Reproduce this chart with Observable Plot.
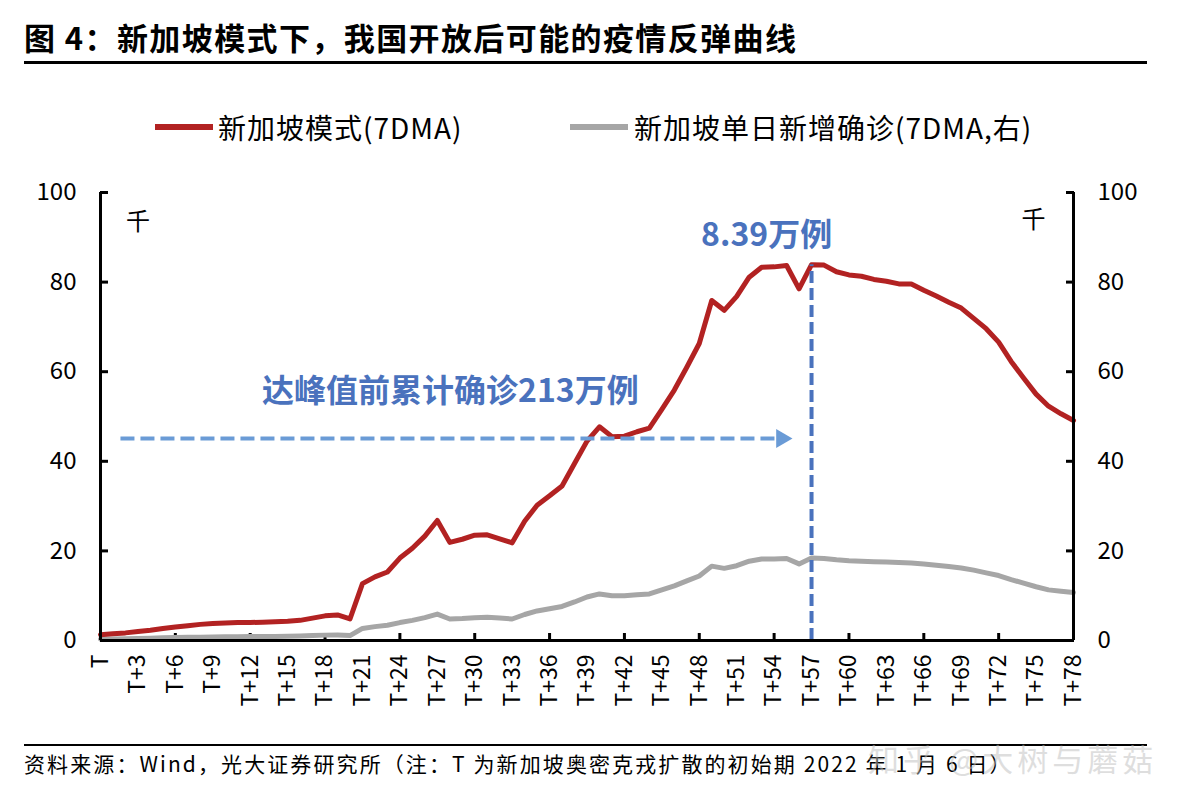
<!DOCTYPE html>
<html>
<head>
<meta charset="utf-8">
<script src="https://cdn.jsdelivr.net/npm/d3@7"></script>
<script src="https://cdn.jsdelivr.net/npm/@observablehq/plot@0.6"></script>
<style>
  body { margin: 0; background: #fff; font-family: "Noto Sans CJK SC", "Noto Sans", sans-serif; }
  #wrap { position: relative; width: 1182px; height: 804px; overflow: hidden; background: #fff; }
  .abs { position: absolute; white-space: nowrap; }
  .title { left: 24px; top: 21px; font-size: 31px; line-height: 31px; font-weight: 700; letter-spacing: 1.4px; color: #000; }
  .hr { left: 24px; width: 1123px; height: 3px; background: #000; }
  .leg { font-size: 28px; line-height: 28px; top: 113px; color: #000; letter-spacing: 1px; }
  .sw { height: 6px; top: 124px; width: 58px; }
  .cap { left: 24px; top: 751px; font-size: 21px; line-height: 24px; color: #000; letter-spacing: 2.1px; }
  .wm { left: 868px; top: 738px; font-size: 31px; line-height: 40px; color: rgba(190,190,190,0.5); letter-spacing: 4px; }
  #chart { position: absolute; left: 0; top: 150px; }
</style>
</head>
<body>
<div id="wrap">
  <div class="abs title">图 4：新加坡模式下，我国开放后可能的疫情反弹曲线</div>
  <div class="abs hr" style="top:61px"></div>
  <div class="abs sw" style="left:155px;background:#B22222"></div>
  <div class="abs leg" style="left:218px">新加坡模式(7DMA)</div>
  <div class="abs sw" style="left:570px;background:#A6A6A6"></div>
  <div class="abs leg" style="left:634px">新加坡单日新增确诊(7DMA,右)</div>
  <div id="chart"></div>
  <div class="abs hr" style="top:744px;height:2px"></div>
  <div class="abs cap">资料来源：Wind，光大证券研究所（注：T 为新加坡奥密克戎扩散的初始期 2022 年 1 月 6 日）</div>
  <div class="abs wm">知乎 @大树与蘑菇</div>
</div>
<script>
// Day index after T (T = 2022-01-06)
const days = d3.range(0, 79);

// 新加坡模式(7DMA), 千
const redSeries = [
  1.3, 1.5, 1.7, 2.0, 2.3, 2.7, 3.0, 3.3, 3.6, 3.8,
  3.9, 4.0, 4.0, 4.1, 4.2, 4.3, 4.5, 5.0, 5.5, 5.7,
  4.8, 12.7, 14.2, 15.3, 18.4, 20.6, 23.3, 26.8, 21.9, 22.6,
  23.5, 23.6, 22.7, 21.8, 26.6, 30.2, 32.3, 34.5, 39.5, 44.5,
  47.7, 45.5, 45.6, 46.6, 47.4, 51.6, 55.9, 61.0, 66.3, 75.9,
  73.7, 76.8, 81.1, 83.3, 83.4, 83.7, 78.5, 83.9, 83.8, 82.3,
  81.6, 81.3, 80.6, 80.2, 79.6, 79.6, 78.2, 76.9, 75.5, 74.2,
  71.9, 69.6, 66.6, 62.3, 58.6, 55.0, 52.3, 50.6, 49.1
];

// 新加坡单日新增确诊(7DMA,右), 千
const graySeries = [
  0.3, 0.35, 0.4, 0.45, 0.5, 0.6, 0.65, 0.7, 0.75, 0.8,
  0.85, 0.85, 0.9, 0.9, 0.9, 0.95, 1.0, 1.1, 1.2, 1.25,
  1.1, 2.7, 3.1, 3.4, 4.0, 4.5, 5.1, 5.9, 4.8, 4.9,
  5.1, 5.2, 5.0, 4.8, 5.8, 6.6, 7.1, 7.6, 8.6, 9.7,
  10.4, 10.0, 10.0, 10.2, 10.4, 11.3, 12.2, 13.3, 14.4, 16.6,
  16.1, 16.7, 17.7, 18.2, 18.2, 18.3, 17.1, 18.4, 18.3, 18.0,
  17.8, 17.7, 17.6, 17.5, 17.4, 17.3, 17.1, 16.8, 16.5, 16.2,
  15.7, 15.1, 14.5, 13.6, 12.8, 12.0, 11.3, 11.0, 10.7
];

const yTicks = [0, 20, 40, 60, 80, 100];
const xLabelDays = [0, 3, 6, 9, 12, 15, 18, 21, 24, 27, 30, 33, 36, 39, 42, 45, 48, 51, 54, 57, 60, 63, 66, 69, 72, 75, 78];
const xTickDays = [6, 12, 18, 24, 30, 36, 42, 48, 54, 60, 66, 72, 78];

// Annotations (data space)
const peakMark = [{day: 57, value: 83.9}];
const peakLabel = [{day: 53.4, value: 90.4, text: "8.39万例"}];
const cumLabel = [{day: 28.05, value: 55.6, text: "达峰值前累计确诊213万例"}];
const arrowLine = [{x1: 1.6, x2: 54.3, y: 45.1}];
const arrowHead = [{day: 54.6, value: 45.1}];
const unitLabels = [{day: 3.0, value: 93.3, text: "千"}, {day: 74.8, value: 93.8, text: "千"}];

const data = days.map((d, i) => ({day: d, red: redSeries[i], gray: graySeries[i]}));

const blue = "#4A72BD";
const lightBlue = "#6A9BD6";
const font = '"Noto Sans CJK SC", "Noto Sans", sans-serif';

const chart = Plot.plot({
  width: 1182,
  height: 590,
  marginLeft: 100,
  marginRight: 109,
  marginTop: 42,
  marginBottom: 100,
  x: {domain: [0, 78]},
  y: {domain: [0, 100]},
  style: {fontFamily: font, fontSize: "24px", color: "#000", background: "transparent", overflow: "visible"},
  marks: [
    Plot.axisY({anchor: "left", ticks: yTicks, tickSize: 0, tickPadding: 24, fontSize: 24, tickFormat: d => String(d)}),
    Plot.axisY({anchor: "right", ticks: yTicks, tickSize: 0, tickPadding: 24, fontSize: 24, tickFormat: d => String(d)}),
    Plot.axisY({anchor: "left", ticks: yTicks, tickSize: -8, text: null, strokeWidth: 3}),
    Plot.axisY({anchor: "right", ticks: yTicks, tickSize: -8, text: null, strokeWidth: 3}),
    Plot.axisX({ticks: xLabelDays, tickSize: 0, tickPadding: 14, tickRotate: -90, fontSize: 23,
      tickFormat: d => d === 0 ? "T" : "T+" + d}),
    Plot.axisX({ticks: xTickDays, tickSize: -7, text: null, strokeWidth: 3}),
    Plot.line(data, {x: "day", y: "gray", stroke: "#A6A6A6", strokeWidth: 5, strokeLinejoin: "round"}),
    Plot.line(data, {x: "day", y: "red", stroke: "#B22222", strokeWidth: 5, strokeLinejoin: "round"}),
    Plot.ruleX(peakMark, {x: "day", y1: 0, y2: "value", stroke: blue, strokeWidth: 4, strokeDasharray: "12,5"}),
    Plot.link(arrowLine, {x1: "x1", x2: "x2", y1: "y", y2: "y", stroke: lightBlue, strokeWidth: 4, strokeDasharray: "14,6"}),
    Plot.dot(arrowHead, {x: "day", y: "value", symbol: "triangle", rotate: 90, r: 7, fill: lightBlue, stroke: "none"}),
    Plot.text(peakLabel, {x: "day", y: "value", text: "text", fill: blue, fontSize: 32, fontWeight: 700}),
    Plot.text(cumLabel, {x: "day", y: "value", text: "text", fill: blue, fontSize: 32, fontWeight: 700}),
    Plot.text(unitLabels, {x: "day", y: "value", text: "text", fill: "#000", fontSize: 24}),
    Plot.ruleY([0], {stroke: "#000", strokeWidth: 3}),
    Plot.ruleX([0, 78], {stroke: "#000", strokeWidth: 3})
  ]
});
document.getElementById("chart").appendChild(chart);
</script>
</body>
</html>
